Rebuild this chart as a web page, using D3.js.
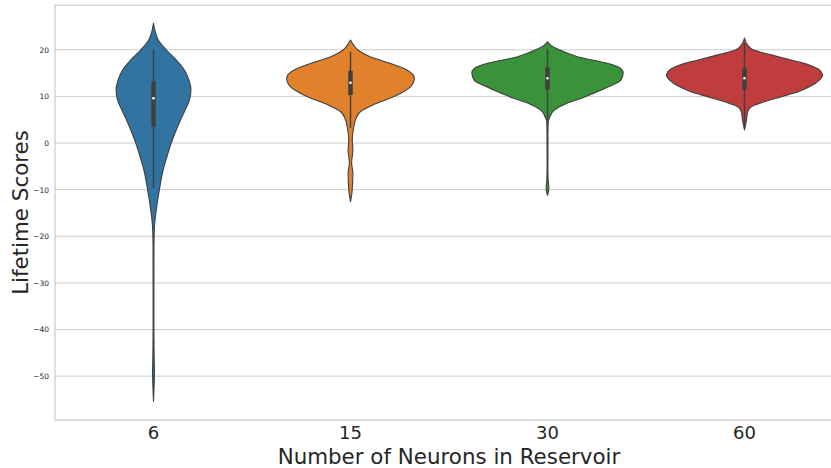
<!DOCTYPE html>
<html>
<head>
<meta charset="utf-8">
<script src="https://cdn.jsdelivr.net/npm/d3@7/dist/d3.min.js"></script>
<style>
  html, body { margin: 0; padding: 0; background: #fff; }
  svg { display: block; font-family: "DejaVu Sans", sans-serif; }
</style>
</head>
<body>
<svg id="chart" width="831" height="468"></svg>
<script>
// Reservoir sizes and their colours
const categories = ["6", "15", "30", "60"];
const colors = ["#3274a1", "#e1812c", "#3a923a", "#c03d3e"];
const yTicks = [-50, -40, -30, -20, -10, 0, 10, 20];

// Density profiles: score value and relative density at that value
const profile6 = [
  [25.7, 0], [24.0, 0.02], [22.1, 0.06], [20, 0.16], [17.8, 0.29], [15.7, 0.39],
  [13.5, 0.45], [11.4, 0.475], [9.2, 0.456], [7, 0.4], [5, 0.344], [2, 0.269],
  [0, 0.225], [-3, 0.169], [-6, 0.119], [-10, 0.075], [-12.2, 0.053], [-14.4, 0.035],
  [-16.5, 0.019], [-19, 0.009], [-22, 0.006], [-30, 0.005], [-40, 0.005], [-46, 0.008],
  [-49, 0.012], [-52, 0.008], [-55.4, 0]
];
const profile15 = [
  [22.1, 0], [21, 0.04], [20, 0.09], [18.5, 0.25], [17.1, 0.5], [15.7, 0.71],
  [13.9, 0.81], [12.4, 0.78], [11, 0.67], [9.6, 0.5], [8.2, 0.29], [6.7, 0.125],
  [5.3, 0.07], [2.8, 0.035], [0.6, 0.022], [-1.5, 0.03], [-4.3, 0.014],
  [-6.4, 0.03], [-9.4, 0.024], [-10.7, 0.018], [-12.6, 0]
];
const profile30 = [
  [21.7, 0], [21, 0.04], [20, 0.15], [18.5, 0.38], [17.1, 0.76], [16, 0.93],
  [15, 0.96], [13.5, 0.93], [12.1, 0.78], [10.7, 0.59], [9.6, 0.43], [8.5, 0.24],
  [7.1, 0.09], [5.6, 0.03], [4.6, 0.01], [2, 0.006], [-5, 0.005], [-8, 0.008],
  [-9.5, 0.017], [-10.5, 0.011], [-11.2, 0]
];
const profile60 = [
  [22.5, 0], [21, 0.04], [20, 0.11], [18.9, 0.34], [17.8, 0.59], [16.7, 0.83],
  [15.7, 0.95], [14.6, 0.99], [13.5, 0.95], [12.1, 0.83], [11, 0.68], [9.9, 0.46],
  [8.9, 0.26], [7.8, 0.09], [6.7, 0.04], [4.9, 0.025], [2.8, 0]
];
const profiles = [profile6, profile15, profile30, profile60];

// Box summaries: [whisker low, Q1, median, Q3, whisker high]
const boxStats = [
  [-9.7, 3.5, 9.6, 13.2, 20.1],
  [3.2, 10.3, 12.9, 15.5, 19.6],
  [4.8, 11.5, 13.9, 16.2, 20.2],
  [3.4, 11.5, 13.9, 16.0, 21.5]
];

const svg = d3.select("#chart");
const margin = { left: 55, right: -12, top: 5, bottom: 48 };
const W = 831, H = 468;
const x0 = margin.left, x1 = W - margin.right;
const yTop = margin.top, yBot = H - margin.bottom;

const x = d3.scaleBand().domain(categories).range([x0, x1]).padding(0);
const y = d3.scaleLinear().domain([-59.4, 29.6]).range([yBot, yTop]);
const wScale = d3.scaleLinear().domain([0, 1]).range([0, x.bandwidth() * 0.4]);

const gridColor = "#cccccc";
const textColor = "#262626";

// Horizontal grid
svg.append("g").selectAll("line").data(yTicks).join("line")
  .attr("x1", x0).attr("x2", x1)
  .attr("y1", d => y(d)).attr("y2", d => y(d))
  .attr("stroke", gridColor).attr("stroke-width", 1);

// Y axis tick labels
const yAxis = d3.axisLeft(y).tickValues(yTicks).tickSize(0).tickPadding(6)
  .tickFormat(d => d < 0 ? "\u2212" + Math.abs(d) : String(d));
const gy = svg.append("g").attr("transform", `translate(${x0},0)`).call(yAxis);
gy.select(".domain").remove();
gy.selectAll("text").attr("fill", textColor).attr("font-size", 7.5)
  .attr("font-family", "DejaVu Sans, sans-serif");

// X axis tick labels
const xAxis = d3.axisBottom(x).tickSize(0).tickPadding(6);
const gx = svg.append("g").attr("transform", `translate(0,${yBot})`).call(xAxis);
gx.select(".domain").remove();
gx.selectAll("text").attr("fill", textColor).attr("font-size", 18)
  .attr("font-family", "DejaVu Sans, sans-serif");

// Violins
const violins = svg.append("g");
profiles.forEach((prof, i) => {
  const cx = x(categories[i]) + x.bandwidth() / 2;
  const area = d3.area()
    .y(d => y(d[0]))
    .x0(d => cx - wScale(d[1]))
    .x1(d => cx + wScale(d[1]))
    .curve(d3.curveMonotoneY);
  violins.append("path")
    .attr("d", area(prof))
    .attr("fill", colors[i])
    .attr("stroke", "#3f3f3f")
    .attr("stroke-width", 1.1)
    .attr("stroke-linejoin", "round");

  const [lo, q1, med, q3, hi] = boxStats[i];
  violins.append("line")
    .attr("x1", cx).attr("x2", cx)
    .attr("y1", y(hi)).attr("y2", y(lo))
    .attr("stroke", "#3f3f3f").attr("stroke-width", 1.4);
  violins.append("line")
    .attr("x1", cx).attr("x2", cx)
    .attr("y1", y(q3)).attr("y2", y(q1))
    .attr("stroke", "#3f3f3f").attr("stroke-width", 4.5);
  violins.append("circle")
    .attr("cx", cx).attr("cy", y(med)).attr("r", 1.3)
    .attr("fill", "#ffffff");
});

// Spines
svg.append("line").attr("x1", x0).attr("x2", x0).attr("y1", yTop).attr("y2", yBot)
  .attr("stroke", gridColor).attr("stroke-width", 1.25);
svg.append("line").attr("x1", x0).attr("x2", x1).attr("y1", yBot).attr("y2", yBot)
  .attr("stroke", gridColor).attr("stroke-width", 1.25);
svg.append("line").attr("x1", x0).attr("x2", x1).attr("y1", yTop).attr("y2", yTop)
  .attr("stroke", gridColor).attr("stroke-width", 1.25);

// Axis titles
svg.append("text")
  .attr("x", (x0 + x1) / 2).attr("y", 463.5)
  .attr("text-anchor", "middle").attr("font-size", 21.4).attr("fill", textColor)
  .text("Number of Neurons in Reservoir");
svg.append("text")
  .attr("transform", `translate(28,${(yTop + yBot) / 2}) rotate(-90)`)
  .attr("text-anchor", "middle").attr("font-size", 21.4).attr("fill", textColor)
  .text("Lifetime Scores");
</script>
</body>
</html>
